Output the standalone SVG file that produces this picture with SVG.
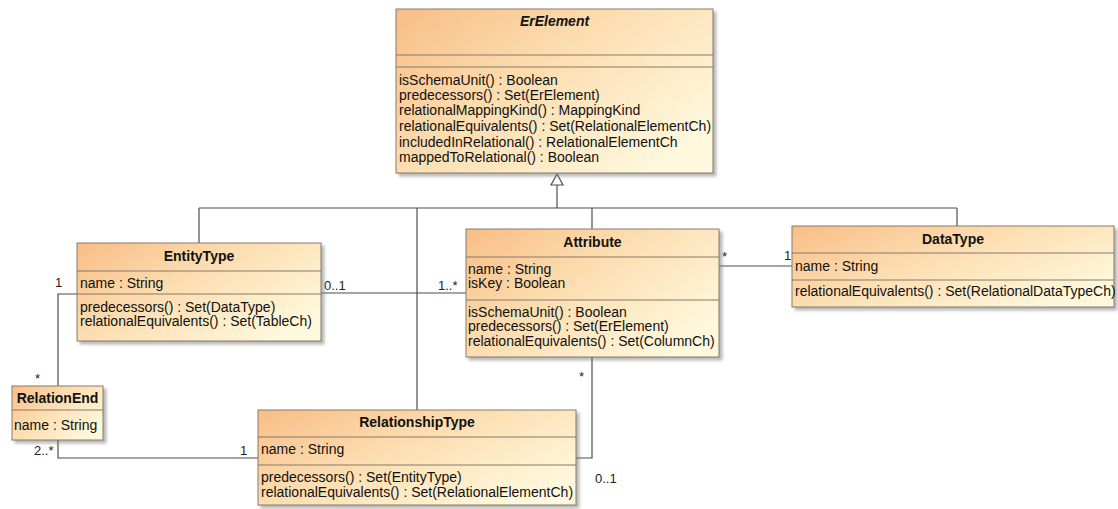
<svg xmlns="http://www.w3.org/2000/svg" width="1118" height="509" viewBox="0 0 1118 509">
  <defs>
    <linearGradient id="classFill" x1="0" y1="0" x2="1" y2="0.7">
      <stop offset="0" stop-color="#f8bd86"/>
      <stop offset="0.45" stop-color="#fcdcae"/>
      <stop offset="1" stop-color="#fff8dc"/>
    </linearGradient>
    <filter id="shadow" x="-5%" y="-5%" width="115%" height="120%">
      <feDropShadow dx="3" dy="3" stdDeviation="1.5" flood-color="#808080" flood-opacity="0.55"/>
    </filter>
    <path id="genArrow" d="M0,0 L-6,11 L6,11 Z"/>
  </defs>
  <style>
    .box { fill: url(#classFill); stroke: #857a6a; stroke-width: 1; filter: url(#shadow); }
    .sep { stroke: #857a6a; stroke-width: 1; fill: none; }
    .conn { stroke: #4d4d4d; stroke-width: 1.2; fill: none; }
    .title { font-family: "Liberation Sans", Arial, sans-serif; font-size: 14px; font-weight: bold; fill: #111; text-anchor: middle; }
    .abstract { font-style: italic; }
    .txt { font-family: "Liberation Sans", Arial, sans-serif; font-size: 14px; fill: #111; }
    .lbl { font-family: "Liberation Sans", Arial, sans-serif; font-size: 13px; fill: #222; }
  </style>

  <rect width="1118" height="509" fill="#ffffff"/>

  <!-- connectors: generalization tree and associations -->
  <g id="connectors">
    <path class="conn" d="M557,185 V208"/>
    <path class="conn" d="M199,208 H957"/>
    <path class="conn" d="M199,208 V243"/>
    <path class="conn" d="M417,208 V410"/>
    <path class="conn" d="M592,208 V229"/>
    <path class="conn" d="M957,208 V226"/>
    <use href="#genArrow" x="557" y="174" fill="#ffffff" stroke="#4d4d4d" stroke-width="1.2"/>

    <!-- EntityType to RelationEnd -->
    <path class="conn" d="M77,294 H58 V386"/>
    <text class="lbl" x="55" y="287">1</text>
    <text class="lbl" x="35" y="383">*</text>

    <!-- EntityType to Attribute -->
    <path class="conn" d="M321,293 H466"/>
    <text class="lbl" x="324" y="290">0..1</text>
    <text class="lbl" x="438" y="290">1..*</text>

    <!-- Attribute to DataType -->
    <path class="conn" d="M719,266 H792"/>
    <text class="lbl" x="722" y="261">*</text>
    <text class="lbl" x="784" y="260">1</text>

    <!-- Attribute to RelationshipType -->
    <path class="conn" d="M592,357 V458 H576"/>
    <text class="lbl" x="579" y="381">*</text>
    <text class="lbl" x="595" y="483">0..1</text>

    <!-- RelationEnd to RelationshipType -->
    <path class="conn" d="M58,440 V458 H258"/>
    <text class="lbl" x="34" y="455">2..*</text>
    <text class="lbl" x="240" y="455">1</text>
  </g>

  <g id="ErElement">
    <rect class="box" x="396" y="9" width="317" height="164"/>
    <path class="sep" d="M396,55 H713 M396,67 H713"/>
    <text class="title abstract" x="554.5" y="26">ErElement</text>
    <text class="txt" x="399" y="85">isSchemaUnit() : Boolean</text>
    <text class="txt" x="399" y="100">predecessors() : Set(ErElement)</text>
    <text class="txt" x="399" y="115">relationalMappingKind() : MappingKind</text>
    <text class="txt" x="399" y="131">relationalEquivalents() : Set(RelationalElementCh)</text>
    <text class="txt" x="399" y="147">includedInRelational() : RelationalElementCh</text>
    <text class="txt" x="399" y="162">mappedToRelational() : Boolean</text>
  </g>

  <g id="EntityType">
    <rect class="box" x="77" y="243" width="244" height="98"/>
    <path class="sep" d="M77,271 H321 M77,294 H321"/>
    <text class="title" x="199" y="261">EntityType</text>
    <text class="txt" x="80" y="288">name : String</text>
    <text class="txt" x="80" y="312">predecessors() : Set(DataType)</text>
    <text class="txt" x="80" y="326">relationalEquivalents() : Set(TableCh)</text>
  </g>

  <g id="Attribute">
    <rect class="box" x="466" y="229" width="253" height="128"/>
    <path class="sep" d="M466,257 H719 M466,300 H719"/>
    <text class="title" x="592.5" y="247">Attribute</text>
    <text class="txt" x="468" y="274">name : String</text>
    <text class="txt" x="468" y="288">isKey : Boolean</text>
    <text class="txt" x="468" y="317">isSchemaUnit() : Boolean</text>
    <text class="txt" x="468" y="331">predecessors() : Set(ErElement)</text>
    <text class="txt" x="468" y="346">relationalEquivalents() : Set(ColumnCh)</text>
  </g>

  <g id="DataType">
    <rect class="box" x="792" y="226" width="322" height="81"/>
    <path class="sep" d="M792,253 H1114 M792,280 H1114"/>
    <text class="title" x="953" y="244">DataType</text>
    <text class="txt" x="795" y="271">name : String</text>
    <text class="txt" x="795" y="296">relationalEquivalents() : Set(RelationalDataTypeCh)</text>
  </g>

  <g id="RelationEnd">
    <rect class="box" x="12" y="386" width="91" height="54"/>
    <path class="sep" d="M12,410 H103"/>
    <text class="title" x="57.5" y="403">RelationEnd</text>
    <text class="txt" x="14" y="430">name : String</text>
  </g>

  <g id="RelationshipType">
    <rect class="box" x="258" y="410" width="318" height="95"/>
    <path class="sep" d="M258,437 H576 M258,465 H576"/>
    <text class="title" x="417" y="427">RelationshipType</text>
    <text class="txt" x="261" y="454">name : String</text>
    <text class="txt" x="261" y="482">predecessors() : Set(EntityType)</text>
    <text class="txt" x="261" y="497">relationalEquivalents() : Set(RelationalElementCh)</text>
  </g>
</svg>
